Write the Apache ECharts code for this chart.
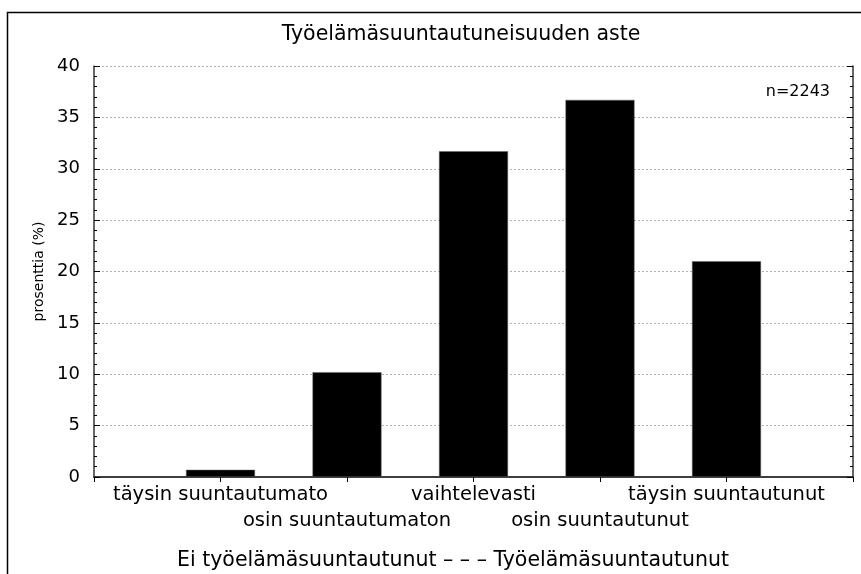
<!DOCTYPE html>
<html>
<head>
<meta charset="utf-8">
<script src="https://cdn.jsdelivr.net/npm/echarts@6/dist/echarts.min.js"></script>
<style>
  html, body { margin: 0; padding: 0; background: #fff; }
  #chart { width: 861px; height: 574px; }
</style>
</head>
<body>
<div id="chart"></div>
<script>
// categories: empty ends keep the bars on ticks 1..5 of a 0..6 axis
const categories = ['', 'täysin suuntautumato', 'osin suuntautumaton', 'vaihtelevasti', 'osin suuntautunut', 'täysin suuntautunut', ''];
const shares = [0.7, 10.2, 31.7, 36.7, 21.0];
const yTicks = [0, 5, 10, 15, 20, 25, 30, 35, 40];

const FONT = 'DejaVu Sans';
const chart = echarts.init(document.getElementById('chart'));

const barData = [null].concat(shares).concat([null]);

const option = {
  animation: false,
  textStyle: { fontFamily: FONT },
  title: {
    text: 'Työelämäsuuntautuneisuuden aste',
    left: 456,
    textAlign: 'center',
    top: 19,
    textStyle: { fontSize: 20.5, fontWeight: 'normal', color: '#000', fontFamily: FONT }
  },
  grid: { left: 94, right: 8, top: 66, bottom: 97 },
  xAxis: [
    {
      type: 'category',
      data: categories,
      boundaryGap: false,
      axisLine: { lineStyle: { color: '#333', width: 1.5 } },
      axisTick: { show: true, interval: 0, inside: false, length: 3, lineStyle: { color: '#000' } },
      axisLabel: {
        interval: 0,
        color: '#000',
        fontSize: 19.5,
        lineHeight: 26,
        margin: 5,
        formatter: function (v, i) { return i % 2 === 0 ? '\n' + v : v; }
      },
      splitLine: { show: false }
    },
    {
      type: 'category',
      position: 'top',
      data: categories,
      boundaryGap: false,
      axisLine: { lineStyle: { color: '#333', width: 1.5 } },
      axisTick: { show: true, interval: 0, inside: true, length: 5, lineStyle: { color: '#000' } },
      axisLabel: { show: false }
    }
  ],
  yAxis: [
    {
      type: 'value',
      min: 0, max: 40, interval: 5,
      name: 'prosenttia (%)',
      nameLocation: 'middle',
      nameGap: 48,
      nameTextStyle: { fontSize: 14, color: '#000' },
      axisLine: { show: true, lineStyle: { color: '#333', width: 1.5 } },
      axisTick: { show: true, inside: true, length: 6, lineStyle: { color: '#000' } },
      minorTick: { show: true, splitNumber: 5, length: 3, lineStyle: { color: '#000' } },
      axisLabel: {
        color: '#000', fontSize: 18, margin: 14,
        formatter: function (v) { return yTicks.indexOf(v) >= 0 ? String(v) : ''; }
      },
      splitLine: { show: true, lineStyle: { color: '#b0b0b0', type: [2, 2], width: 1 } }
    },
    {
      type: 'value',
      position: 'right',
      min: 0, max: 40, interval: 5,
      axisLine: { show: true, lineStyle: { color: '#333', width: 1.5 } },
      axisTick: { show: true, inside: true, length: 6, lineStyle: { color: '#000' } },
      minorTick: { show: true, splitNumber: 5, length: 3, lineStyle: { color: '#000' } },
      axisLabel: { show: false },
      splitLine: { show: false }
    }
  ],
  series: [
    {
      type: 'bar',
      data: barData,
      barWidth: 69,
      itemStyle: { color: '#000', borderColor: '#666', borderWidth: 0.5 }
    }
  ],
  graphic: [
    {
      type: 'rect',
      shape: { x: 7.5, y: 12.5, width: 900, height: 700 },
      style: { fill: 'none', stroke: '#000', lineWidth: 1.5 },
      silent: true
    },
    {
      type: 'text',
      right: 31,
      top: 84,
      style: { text: 'n=2243', fill: '#000', font: '16px "DejaVu Sans"' }
    },
    {
      type: 'text',
      left: 177,
      top: 550,
      style: { text: 'Ei työelämäsuuntautunut – – – Työelämäsuuntautunut', fill: '#000', font: '20.5px "DejaVu Sans"' }
    }
  ]
};

chart.setOption(option);
</script>
</body>
</html>
